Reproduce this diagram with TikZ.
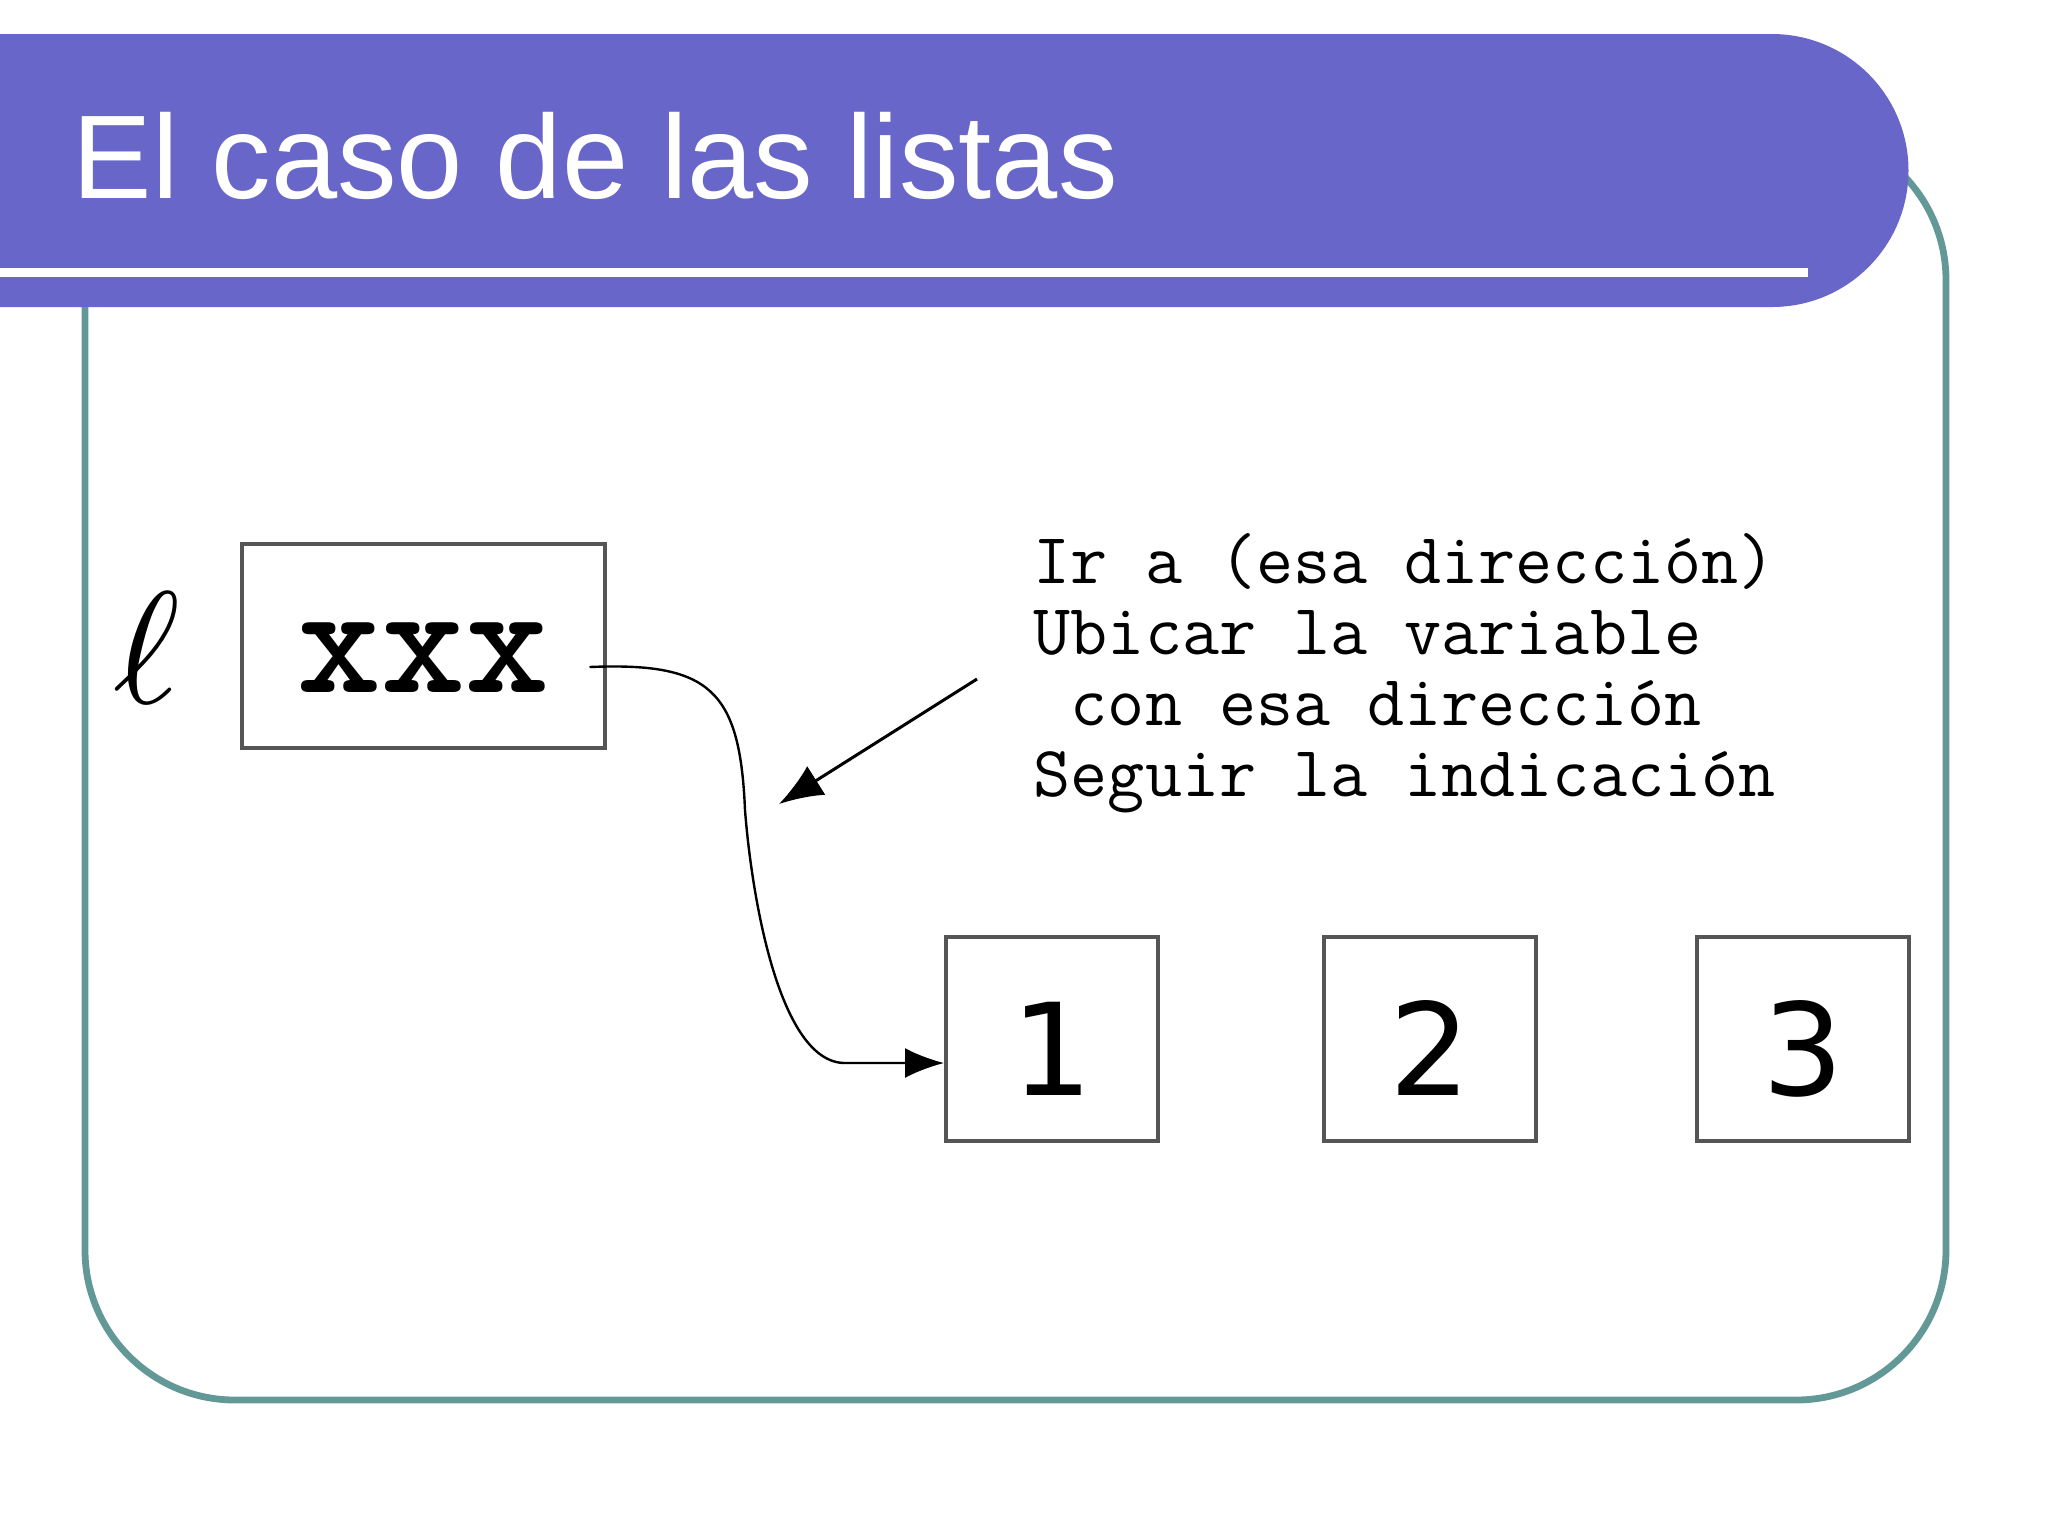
\documentclass[tikz,border=0pt]{standalone}
\usepackage{fontspec}
\setmainfont{Liberation Sans}
\newfontfamily\digitfont{DejaVu Sans}
\usepackage{tikz}
\usetikzlibrary{arrows.meta, calc}
\definecolor{barblue}{RGB}{104,102,200}
\definecolor{frameteal}{RGB}{98,152,150}
\definecolor{boxgray}{RGB}{85,85,85}
\tikzset{
	cell/.style={draw=boxgray, line width=1pt, fill=white, inner sep=0pt},
	numcell/.style={cell, minimum width=53pt, minimum height=51pt, text height=28pt, text depth=0pt,
		font=\digitfont\fontsize{32}{32}\selectfont},
	link/.style={line width=0.6pt, -{Latex[length=9.75pt,width=7.5pt]}},
	hintarrow/.style={line width=0.75pt, -{Latex[length=11pt,width=8.5pt]}}
}

\begin{document}
\begin{tikzpicture}[x=0.25pt, y=-0.25pt]
				\useasboundingbox (0,0) rectangle (2048,1536);
				\draw[frameteal, line width=1.7pt, rounded corners=37.5pt] (85,130) rectangle (1946,1400);
				\fill[barblue] (-20,34) -- (1772,34) arc[start angle=-90, end angle=90, radius=136.5] -- (-20,307) -- cycle;
				\fill[white] (-20,268) rectangle (1808,277);
				\node[anchor=base west, inner sep=0pt, text=white, font=\fontsize{29.75}{30}\selectfont] (title) at (72,198) {El caso de las listas};
				\node[scale=4, inner sep=0pt] (ell) at (147,648) {$\ell$};
				\node[cell, minimum width=90.75pt, minimum height=51pt, text height=23pt, text depth=0pt,
					font=\ttfamily\bfseries\fontsize{40}{40}\selectfont] (ptr) at (423,646) {xxx};
				\node[numcell] (n1) at (1052,1039) {1};
				\node[numcell] (n2) at (1430,1039) {2};
				\node[numcell] (n3) at (1803,1039) {3};
				\node[anchor=base west, align=left, inner sep=0pt, font=\ttfamily\fontsize{18}{17.75}\selectfont] (note)
					at (1033,796) {Ir a (esa dirección)\\Ubicar la variable\\\ con esa dirección\\Seguir la indicación};
				\coordinate (start) at ($(ptr.east)+(-17,21)$);
				\coordinate (hint) at (977,679);
				\coordinate (aim) at (779,804);
				\draw[link] (start) .. controls (710,662) and (740,690) .. (745,810)
					.. controls (752,900) and (780,1063) .. (845,1063) -- ([yshift=-6pt]n1.west);
				\draw[hintarrow] (hint) -- (aim);
			\end{tikzpicture}
\end{document}
